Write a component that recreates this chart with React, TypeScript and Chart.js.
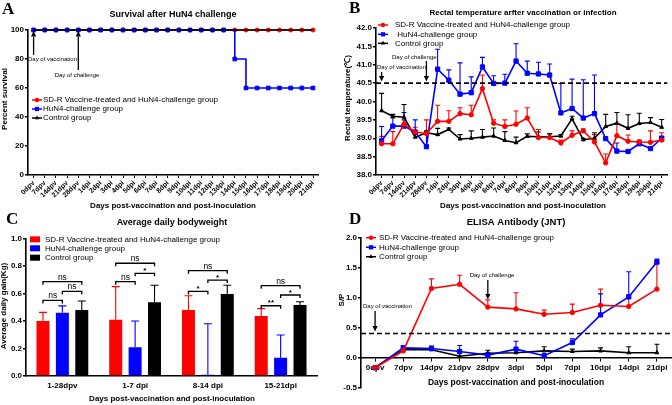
import React, { useEffect, useRef } from "react";
import { Chart, registerables } from "chart.js";

Chart.register(...registerables);

const SANS = '"Liberation Sans", Arial, Helvetica, sans-serif';
const SERIF = '"Liberation Serif", "Times New Roman", serif';
const RED = "#ff0000";
const BLUE = "#0000ff";
const BLACK = "#000000";

const groupNames = [
  "SD-R Vaccine-treated and HuN4-challenge group",
  "HuN4-challenge group",
  "Control group",
];
const xTitle = "Days post-vaccination and post-inoculation";

// ---------- Panel A / B : days ----------
const dayLabels = [
  "0dpv", "7dpv", "14dpv", "21dpv", "28dpv",
  "1dpi", "2dpi", "3dpi", "4dpi", "5dpi", "6dpi", "7dpi", "8dpi", "9dpi", "10dpi",
  "11dpi", "12dpi", "13dpi", "14dpi", "15dpi", "16dpi", "17dpi", "18dpi", "19dpi", "20dpi", "21dpi",
];

// Panel A: survival (%)
const survivalSdr = [100, 100, 100, 100, 100, 100, 100, 100, 100, 100, 100, 100, 100, 100, 100, 100, 100, 100, 100, 100, 100, 100, 100, 100, 100, 100];
const survivalHuN4 = [100, 100, 100, 100, 100, 100, 100, 100, 100, 100, 100, 100, 100, 100, 100, 100, 100, 100, 80, 60, 60, 60, 60, 60, 60, 60];
const survivalCtrl = [100, 100, 100, 100, 100, 100, 100, 100, 100, 100, 100, 100, 100, 100, 100, 100, 100, 100, 100, 100, 100, 100, 100, 100, 100, 100];

// Panel B: rectal temperature (°C) and upper error bar ends
const tempSdr = [38.85, 38.85, 39.38, 39.17, 39.13, 39.46, 39.46, 39.67, 39.64, 40.35, 39.41, 39.32, 39.38, 39.55, 39.02, 39.02, 38.87, 39.08, 39.2, 38.9, 38.33, 39.07, 38.92, 38.9, 38.89, 38.95];
const tempSdrTop = [39.05, 39.18, 39.5, 39.3, 39.5, 39.9, 39.75, 39.83, 39.9, 40.72, 39.5, 39.5, 39.74, 39.83, 39.24, 39.13, 38.95, 39.2, 39.26, 39.1, 38.57, 39.4, 39.09, 38.95, 39.2, 39.15];
const tempHuN4 = [38.93, 39.33, 39.33, 39.17, 38.77, 40.88, 40.58, 40.2, 40.24, 40.94, 40.49, 40.5, 41.1, 40.77, 40.75, 40.72, 39.69, 39.81, 39.55, 39.67, 38.99, 38.65, 38.64, 38.85, 38.72, 39.0];
const tempHuN4Top = [39.32, 39.55, 39.7, 39.5, 39.18, 41.42, 40.86, 41.05, 40.67, 41.2, 40.7, 40.74, 41.57, 41.1, 41.07, 41.02, 40.49, 40.61, 40.59, 40.72, 38.99, 38.87, 38.64, 38.9, 38.72, 39.05];
const tempCtrl = [39.75, 39.6, 39.57, 39.03, 39.15, 39.1, 39.24, 38.98, 39.0, 39.03, 39.06, 38.94, 38.88, 39.05, 39.04, 39.04, 39.06, 39.53, 38.96, 39.0, 39.32, 39.41, 39.27, 39.4, 39.43, 39.3];
const tempCtrlTop = [40.22, 39.65, 39.92, 39.12, 39.2, 39.27, 39.28, 39.1, 39.2, 39.24, 39.28, 39.18, 39.03, 39.12, 39.17, 39.12, 39.1, 39.6, 39.0, 39.15, 39.65, 39.7, 39.64, 39.68, 39.56, 39.51];

// ---------- Panel C : bodyweight ----------
const bwLabels = ["1-28dpv", "1-7 dpi", "8-14 dpi", "15-21dpi"];
const bwSdr = [0.4, 0.41, 0.48, 0.436];
const bwSdrTop = [0.463, 0.65, 0.584, 0.49];
const bwHuN4 = [0.46, 0.21, 0.01, 0.133];
const bwHuN4Top = [0.51, 0.4, 0.38, 0.298];
const bwCtrl = [0.48, 0.536, 0.596, 0.516];
const bwCtrlTop = [0.545, 0.66, 0.66, 0.54];
// significance brackets: group index, dataset from/to, level (kg), label
const bwBrackets = [
  { group: 0, from: 0, to: 1, level: 0.55, label: "ns" },
  { group: 0, from: 1, to: 2, level: 0.615, label: "ns" },
  { group: 0, from: 0, to: 2, level: 0.686, label: "ns" },
  { group: 1, from: 0, to: 1, level: 0.686, label: "ns" },
  { group: 1, from: 1, to: 2, level: 0.747, label: "*" },
  { group: 1, from: 0, to: 2, level: 0.82, label: "ns" },
  { group: 2, from: 0, to: 1, level: 0.615, label: "*" },
  { group: 2, from: 1, to: 2, level: 0.698, label: "*" },
  { group: 2, from: 0, to: 2, level: 0.766, label: "ns" },
  { group: 3, from: 0, to: 1, level: 0.511, label: "**" },
  { group: 3, from: 1, to: 2, level: 0.589, label: "*" },
  { group: 3, from: 0, to: 2, level: 0.657, label: "ns" },
];

// ---------- Panel D : ELISA ----------
const elisaLabels = ["0dpv", "7dpv", "14dpv", "21dpv", "28dpv", "3dpi", "5dpi", "7dpi", "10dpi", "14dpi", "21dpi"];
const elisaSdr = [-0.17, 0.11, 1.15, 1.22, 0.84, 0.81, 0.72, 0.75, 0.87, 0.85, 1.14];
const elisaSdrTop = [-0.17, 0.15, 1.31, 1.37, 0.96, 1.08, 0.79, 0.89, 1.14, 1.04, 1.57];
const elisaHuN4 = [-0.17, 0.16, 0.15, 0.1, 0.04, 0.14, 0.03, 0.25, 0.71, 1.01, 1.59];
const elisaHuN4Top = [-0.17, 0.2, 0.19, 0.2, 0.08, 0.27, 0.03, 0.31, 1.06, 1.43, 1.64];
const elisaCtrl = [-0.17, 0.13, 0.13, 0.02, 0.07, 0.08, 0.11, 0.1, 0.11, 0.08, 0.08];
const elisaCtrlTop = [-0.17, 0.13, 0.13, 0.02, 0.12, 0.13, 0.18, 0.14, 0.16, 0.18, 0.22];

// ---------- drawing helpers ----------
function text(ctx: any, s: string, x: number, y: number, size: number, o: any = {}) {
  ctx.save();
  ctx.translate(x, y);
  if (o.rot) ctx.rotate(o.rot);
  ctx.font = `${o.bold ? "bold " : ""}${size}px ${o.family || SANS}`;
  ctx.fillStyle = o.color || BLACK;
  ctx.textAlign = o.align || "left";
  ctx.textBaseline = o.baseline || "middle";
  ctx.fillText(s, 0, 0);
  ctx.restore();
}

function marker(ctx: any, style: string, x: number, y: number, r: number, color: string) {
  ctx.save();
  ctx.fillStyle = color;
  ctx.beginPath();
  if (style === "circle") ctx.arc(x, y, r, 0, Math.PI * 2);
  else if (style === "rect") {
    const s = r * Math.SQRT1_2;
    ctx.rect(x - s, y - s, 2 * s, 2 * s);
  } else {
    ctx.moveTo(x, y - r);
    ctx.lineTo(x + r * 0.87, y + r * 0.5);
    ctx.lineTo(x - r * 0.87, y + r * 0.5);
    ctx.closePath();
  }
  ctx.fill();
  ctx.restore();
}

const legendStyles: any[] = [
  ["circle", RED, 2.2],
  ["rect", BLUE, 3],
  ["triangle", BLACK, 2.5],
];

function lineLegend(ctx: any, x: number, rows: number[], labels: string[], size: number, gap: number) {
  rows.forEach((y, i) => {
    const [st, col, r] = legendStyles[i];
    ctx.save();
    ctx.strokeStyle = col;
    ctx.lineWidth = 1.5;
    ctx.beginPath();
    ctx.moveTo(x, y);
    ctx.lineTo(x + 10, y);
    ctx.stroke();
    ctx.restore();
    marker(ctx, st, x + 5, y, r, col);
    text(ctx, labels[i], x + gap, y, size);
  });
}

function boxLegend(ctx: any, x: number, rows: number[], labels: string[], size: number, gap: number) {
  const cols = [RED, BLUE, BLACK];
  rows.forEach((y, i) => {
    ctx.fillStyle = cols[i];
    ctx.fillRect(x, y - 3, 10, 6);
    text(ctx, labels[i], x + gap, y, size);
  });
}

function arrow(ctx: any, x: number, yTail: number, yHead: number) {
  const dir = yHead > yTail ? 1 : -1;
  const hl = 5.5;
  const hw = 2.6;
  ctx.save();
  ctx.strokeStyle = BLACK;
  ctx.fillStyle = BLACK;
  ctx.lineWidth = 1.3;
  ctx.beginPath();
  ctx.moveTo(x, yTail);
  ctx.lineTo(x, yHead - dir * hl);
  ctx.stroke();
  ctx.beginPath();
  ctx.moveTo(x, yHead);
  ctx.lineTo(x - hw, yHead - dir * hl);
  ctx.lineTo(x + hw, yHead - dir * hl);
  ctx.closePath();
  ctx.fill();
  ctx.restore();
}

function dashedAt(chart: any, value: number) {
  const ctx = chart.ctx;
  const y = chart.scales.y.getPixelForValue(value);
  const { left, right } = chart.chartArea;
  ctx.save();
  ctx.strokeStyle = BLACK;
  ctx.lineWidth = 1.6;
  ctx.setLineDash([5, 3]);
  ctx.beginPath();
  ctx.moveTo(left, y);
  ctx.lineTo(right, y);
  ctx.stroke();
  ctx.restore();
}

function errorBars(chart: any, tops: number[][], colors: string[], half: number) {
  const ctx = chart.ctx;
  const ys = chart.scales.y;
  tops.forEach((arr, di) => {
    const meta = chart.getDatasetMeta(di);
    const vals = chart.data.datasets[di].data;
    ctx.save();
    ctx.strokeStyle = colors[di];
    ctx.lineWidth = 1.1;
    meta.data.forEach((el: any, i: number) => {
      const top = arr[i];
      if (top == null || top <= vals[i]) return;
      const yt = ys.getPixelForValue(top);
      ctx.beginPath();
      ctx.moveTo(el.x, el.y);
      ctx.lineTo(el.x, yt);
      ctx.moveTo(el.x - half, yt);
      ctx.lineTo(el.x + half, yt);
      ctx.stroke();
    });
    ctx.restore();
  });
}

// ---------- axis helpers ----------
function yAxis(min: number, max: number, step: number, width: number, decimals: number) {
  return {
    type: "linear",
    min,
    max,
    ticks: {
      stepSize: step,
      color: BLACK,
      padding: 1,
      font: { family: SANS, size: 8, weight: "bold" },
      callback: (v: any) => (decimals ? Number(v).toFixed(decimals) : String(Math.round(Number(v)))),
    },
    grid: { display: true, drawOnChartArea: false, drawTicks: true, tickLength: 3, color: BLACK, lineWidth: 1.5 },
    border: { display: true, color: BLACK, width: 1.6 },
    afterFit: (s: any) => {
      s.width = width;
    },
  };
}

function xDays(height: number) {
  return {
    type: "category",
    offset: true,
    grid: { display: true, drawOnChartArea: false, drawTicks: true, tickLength: 3, color: BLACK, lineWidth: 1, offset: false },
    border: { display: true, color: BLACK, width: 1.6 },
    ticks: {
      autoSkip: false,
      minRotation: 45,
      maxRotation: 45,
      padding: 1,
      color: BLACK,
      font: { family: SANS, size: 7, weight: "bold" },
    },
    afterFit: (s: any) => {
      s.height = height;
    },
  };
}

function lineDs(label: string, data: number[], color: string, style: string, radius: number, extra: any = {}) {
  return {
    label,
    data,
    borderColor: color,
    backgroundColor: color,
    pointBackgroundColor: color,
    pointBorderColor: color,
    pointBorderWidth: 1,
    pointStyle: style,
    pointRadius: radius,
    borderWidth: 1.6,
    tension: 0,
    clip: false,
    ...extra,
  };
}

function baseOptions(padding: any) {
  return {
    responsive: false,
    animation: false,
    devicePixelRatio: 1,
    events: [],
    layout: { padding, autoPadding: false },
    plugins: { legend: { display: false }, tooltip: { enabled: false }, title: { display: false } },
  };
}

// ---------- configs ----------
function configA() {
  return {
    type: "line",
    data: {
      labels: dayLabels,
      datasets: [
        lineDs(groupNames[0], survivalSdr, RED, "circle", 2, { order: 3 }),
        lineDs(groupNames[1], survivalHuN4, BLUE, "rect", 2.6, { order: 2, stepped: true }),
        lineDs(groupNames[2], survivalCtrl, BLACK, "triangle", 0, { order: 1 }),
      ],
    },
    options: {
      ...baseOptions({ left: 0, top: 30, right: 17.4, bottom: 0 }),
      scales: { x: xDays(40), y: yAxis(0, 100, 20, 28, 0) },
    },
    plugins: [
      {
        id: "decoA",
        afterDraw(chart: any) {
          const ctx = chart.ctx;
          const xs = chart.scales.x;
          text(ctx, "A", 2, 14, 17, { bold: true, family: SERIF, baseline: "alphabetic" });
          text(ctx, "Survival after HuN4 challenge", 173, 15, 9, { bold: true, align: "center" });
          text(ctx, "Percent survival", 5, 99, 8, { bold: true, align: "center", rot: -Math.PI / 2 });
          text(ctx, xTitle, 173, 206, 8, { bold: true, align: "center" });
          lineLegend(ctx, 32, [100, 109, 118], groupNames, 8, 11);
          arrow(ctx, xs.getPixelForValue(0), 55, 31);
          text(ctx, "Day of vaccination", 28, 59, 6);
          arrow(ctx, xs.getPixelForValue(4), 70, 31);
          text(ctx, "Day of challenge", 77, 75, 6, { align: "center" });
        },
      },
    ],
  };
}

function configB() {
  return {
    type: "line",
    data: {
      labels: dayLabels,
      datasets: [
        lineDs(groupNames[0], tempSdr, RED, "circle", 2.2),
        lineDs(groupNames[1], tempHuN4, BLUE, "rect", 3),
        lineDs(groupNames[2], tempCtrl, BLACK, "triangle", 2.2),
      ],
    },
    options: {
      ...baseOptions({ left: 0, top: 28, right: 4.7, bottom: 0 }),
      scales: { x: xDays(40), y: yAxis(38, 42, 0.5, 40, 1) },
    },
    plugins: [
      {
        id: "decoB",
        beforeDatasetsDraw(chart: any) {
          errorBars(chart, [tempSdrTop, tempHuN4Top, tempCtrlTop], [RED, BLUE, BLACK], 2.5);
        },
        afterDraw(chart: any) {
          const ctx = chart.ctx;
          const xs = chart.scales.x;
          dashedAt(chart, 40.5);
          text(ctx, "B", 13, 13, 17, { bold: true, family: SERIF, baseline: "alphabetic" });
          text(ctx, "Rectal temperature arfter vaccination or infection", 187, 13, 8, { bold: true, align: "center" });
          text(ctx, "Rectal temperature(℃)", 12, 98, 8, { bold: true, align: "center", rot: -Math.PI / 2 });
          text(ctx, xTitle, 187, 206, 8, { bold: true, align: "center" });
          lineLegend(ctx, 42, [25, 34.3, 43.3], [groupNames[0], " " + groupNames[1], groupNames[2]], 8, 17);
          arrow(ctx, xs.getPixelForValue(0), 72, 81.5);
          text(ctx, "Day of vaccination", 41, 67.5, 6);
          arrow(ctx, xs.getPixelForValue(4), 61, 81.5);
          text(ctx, "Day of challenge", 56, 57, 6);
        },
      },
    ],
  };
}

function configC() {
  const bar = (label: string, data: number[], color: string) => ({
    label,
    data,
    backgroundColor: color,
    borderWidth: 0,
    barPercentage: 0.67,
    categoryPercentage: 0.8,
  });
  return {
    type: "bar",
    data: {
      labels: bwLabels,
      datasets: [bar(groupNames[0], bwSdr, RED), bar(groupNames[1], bwHuN4, BLUE), bar(groupNames[2], bwCtrl, BLACK)],
    },
    options: {
      ...baseOptions({ left: 0, top: 38.5, right: 19, bottom: 0 }),
      scales: {
        x: {
          type: "category",
          offset: true,
          grid: { display: false, drawTicks: false },
          border: { display: true, color: BLACK, width: 1.6 },
          ticks: { padding: 5, color: BLACK, maxRotation: 0, font: { family: SANS, size: 8, weight: "bold" } },
          afterFit: (s: any) => {
            s.height = 29;
          },
        },
        y: yAxis(0, 1, 0.2, 26, 1),
      },
    },
    plugins: [
      {
        id: "decoC",
        beforeDatasetsDraw(chart: any) {
          errorBars(chart, [bwSdrTop, bwHuN4Top, bwCtrlTop], [RED, BLUE, BLACK], 4);
        },
        afterDraw(chart: any) {
          const ctx = chart.ctx;
          const ys = chart.scales.y;
          bwBrackets.forEach((b) => {
            const x1 = chart.getDatasetMeta(b.from).data[b.group].x;
            const x2 = chart.getDatasetMeta(b.to).data[b.group].x;
            const y = ys.getPixelForValue(b.level);
            ctx.save();
            ctx.strokeStyle = BLACK;
            ctx.lineWidth = 1.3;
            ctx.beginPath();
            ctx.moveTo(x1, y + 3);
            ctx.lineTo(x1, y);
            ctx.lineTo(x2, y);
            ctx.lineTo(x2, y + 3);
            ctx.stroke();
            ctx.restore();
            if (b.label === "ns") text(ctx, "ns", (x1 + x2) / 2, y - 4.5, 8.5, { align: "center" });
            else text(ctx, b.label, (x1 + x2) / 2, y - 2.5, 8, { align: "center", bold: true });
          });
          text(ctx, "C", 6, 24, 17, { bold: true, family: SERIF, baseline: "alphabetic" });
          text(ctx, "Average daily bodyweight", 172, 23, 9, { bold: true, align: "center" });
          text(ctx, "Average daily gain(Kg)", 4, 106, 8, { bold: true, align: "center", rot: -Math.PI / 2 });
          text(ctx, xTitle, 172, 199, 8, { bold: true, align: "center" });
          boxLegend(ctx, 30, [39.3, 48.3, 57.7], groupNames, 8, 15);
        },
      },
    ],
  };
}

function configD() {
  return {
    type: "line",
    data: {
      labels: elisaLabels,
      datasets: [
        lineDs(groupNames[0], elisaSdr, RED, "circle", 2.2),
        lineDs(groupNames[1], elisaHuN4, BLUE, "rect", 3),
        lineDs(groupNames[2], elisaCtrl, BLACK, "triangle", 2.2),
      ],
    },
    options: {
      ...baseOptions({ left: 0, top: 37.5, right: 1, bottom: 17.5 }),
      scales: {
        x: {
          type: "category",
          offset: true,
          position: { y: 0 },
          grid: { display: true, drawOnChartArea: false, drawTicks: true, tickLength: 3, color: BLACK, lineWidth: 1, offset: false },
          border: { display: true, color: BLACK, width: 1.6 },
          ticks: { autoSkip: false, maxRotation: 0, minRotation: 0, padding: 2, color: BLACK, font: { family: SANS, size: 8, weight: "bold" } },
        },
        y: yAxis(-0.5, 2, 0.5, 25, 1),
      },
    },
    plugins: [
      {
        id: "decoD",
        beforeDatasetsDraw(chart: any) {
          errorBars(chart, [elisaSdrTop, elisaHuN4Top, elisaCtrlTop], [RED, BLUE, BLACK], 2.5);
        },
        afterDraw(chart: any) {
          const ctx = chart.ctx;
          const xs = chart.scales.x;
          dashedAt(chart, 0.4);
          text(ctx, "D", 13, 24, 17, { bold: true, family: SERIF, baseline: "alphabetic" });
          text(ctx, "ELISA Antibody (JNT)", 180, 22, 9.5, { bold: true, align: "center" });
          text(ctx, "S/P", 6, 100, 8, { bold: true, align: "center", rot: -Math.PI / 2 });
          text(ctx, xTitle, 180, 183, 8.5, { bold: true, align: "center" });
          lineLegend(ctx, 30, [37.7, 47.3, 56.7], groupNames, 8, 13);
          arrow(ctx, xs.getPixelForValue(0), 111, 131.5);
          text(ctx, "Day of vaccination", 27, 106.7, 6);
          arrow(ctx, xs.getPixelForValue(4), 80, 99.5);
          text(ctx, "Day of challenge", 156, 75, 6, { align: "center" });
        },
      },
    ],
  };
}

function Panel({ x, y, w, h, make }: { x: number; y: number; w: number; h: number; make: () => any }) {
  const ref = useRef<HTMLCanvasElement>(null);
  useEffect(() => {
    const chart = new Chart(ref.current as HTMLCanvasElement, make() as any);
    return () => chart.destroy();
  }, []);
  return (
    <canvas
      ref={ref}
      width={w}
      height={h}
      style={{ position: "absolute", left: x, top: y, width: w, height: h, display: "block" }}
    />
  );
}

export default function App() {
  return (
    <div style={{ position: "absolute", left: 0, top: 0, width: 672, height: 405, background: "#fff", overflow: "hidden" }}>
      <Panel x={0} y={0} w={336} h={215} make={configA} />
      <Panel x={336} y={0} w={336} h={215} make={configB} />
      <Panel x={0} y={200} w={336} h={205} make={configC} />
      <Panel x={336} y={200} w={336} h={205} make={configD} />
    </div>
  );
}
